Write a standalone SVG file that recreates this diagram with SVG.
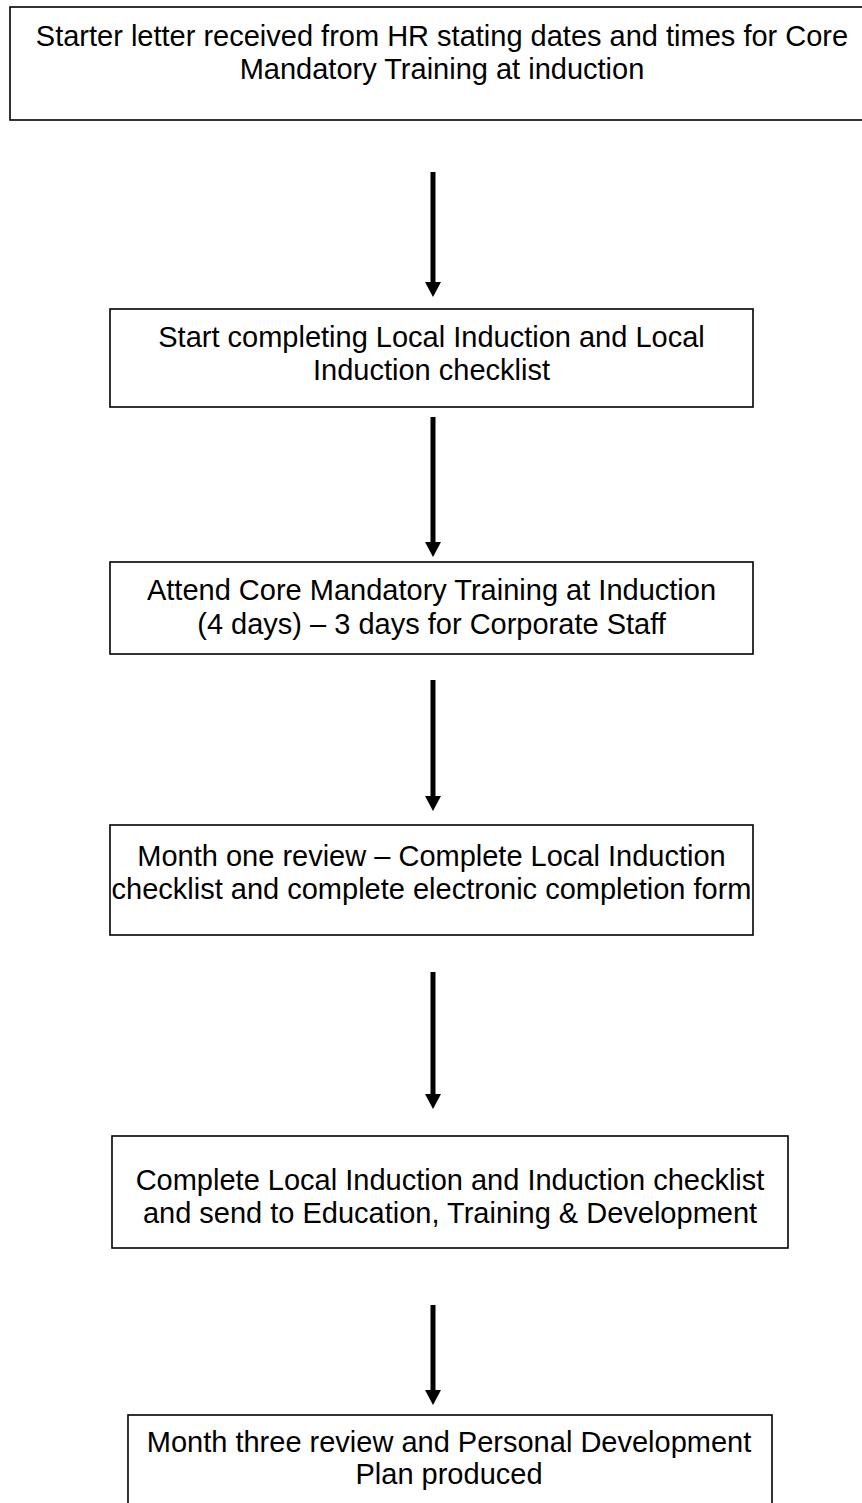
<svg xmlns="http://www.w3.org/2000/svg" width="862" height="1503" viewBox="0 0 862 1503">
<style>
.box{fill:#fff;stroke:#000;stroke-width:1.6}
.t{font-family:"Liberation Sans",Arial,sans-serif;font-size:29px;fill:#000;text-anchor:middle}
.c{stroke:#000;stroke-width:5;fill:none;marker-end:url(#ah)}
</style>
<defs>
<marker id="ah" markerUnits="userSpaceOnUse" markerWidth="20" markerHeight="20" refX="0" refY="0" orient="auto" overflow="visible">
<path d="M0,-8 L15,0 L0,8 Z" fill="#000"/>
</marker>
</defs>
<rect width="862" height="1503" fill="#fff"/>
<g id="connectors">
<path class="c" d="M433,172 V282"/>
<path class="c" d="M433,417 V542"/>
<path class="c" d="M433,680 V796"/>
<path class="c" d="M433,972 V1094"/>
<path class="c" d="M433,1305 V1390"/>
</g>
<g id="n1"><rect class="box" x="10" y="7" width="870" height="113"/>
<text class="t" x="442" y="46">Starter letter received from HR stating dates and times for Core</text>
<text class="t" x="442" y="79">Mandatory Training at induction</text></g>
<g id="n2"><rect class="box" x="110" y="309" width="643" height="98"/>
<text class="t" x="431.5" y="347">Start completing Local Induction and Local</text>
<text class="t" x="431.5" y="380">Induction checklist</text></g>
<g id="n3"><rect class="box" x="110" y="562" width="643" height="92"/>
<text class="t" x="431.5" y="600">Attend Core Mandatory Training at Induction</text>
<text class="t" x="431.5" y="634">(4 days) – 3 days for Corporate Staff</text></g>
<g id="n4"><rect class="box" x="110" y="825" width="643" height="110"/>
<text class="t" x="431.5" y="866">Month one review – Complete Local Induction</text>
<text class="t" x="431.5" y="899">checklist and complete electronic completion form</text></g>
<g id="n5"><rect class="box" x="112" y="1136" width="676" height="112"/>
<text class="t" x="450" y="1190">Complete Local Induction and Induction checklist</text>
<text class="t" x="450" y="1223">and send to Education, Training &amp; Development</text></g>
<g id="n6"><rect class="box" x="128" y="1415" width="644" height="100"/>
<text class="t" x="449" y="1452">Month three review and Personal Development</text>
<text class="t" x="449" y="1484">Plan produced</text></g>
</svg>
